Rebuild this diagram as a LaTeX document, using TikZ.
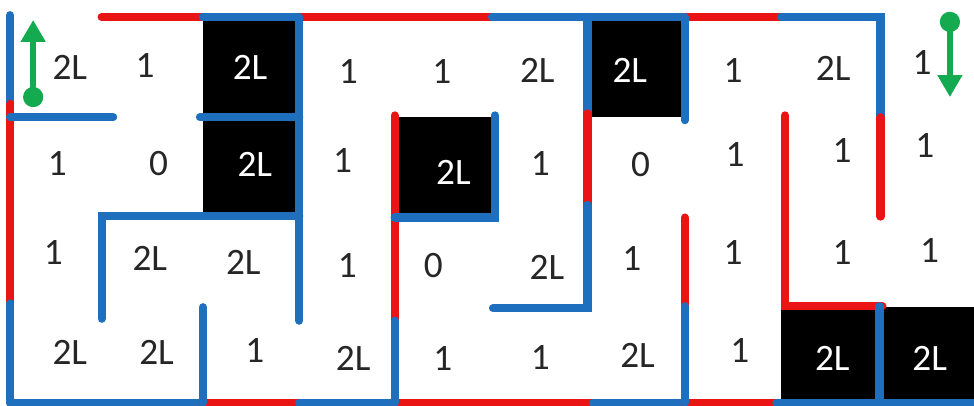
\documentclass[tikz,border=0pt]{standalone}
\usepackage{fontspec}
\setmainfont{Carlito}
\usetikzlibrary{arrows.meta}
\definecolor{wallblue}{RGB}{30,112,190}
\definecolor{wallred}{RGB}{235,20,20}
\definecolor{pathgreen}{RGB}{20,170,80}
\tikzset{
  bwall/.style  = {draw=wallblue, line width=2.4pt, line cap=round},
  rwall/.style  = {draw=wallred, line width=2.4pt, line cap=round},
  block/.style  = {fill=black},
  cost/.style   = {font=\fontsize{11}{13}\selectfont, text=black!85, inner sep=0pt},
  costw/.style  = {cost, text=white},
  walker/.style = {pathgreen, line width=1.8pt, -{Triangle[width=7pt,length=6.5pt]}},
}

\begin{document}
\begin{tikzpicture}
  \useasboundingbox (-0.104,-0.031) rectangle (10,4.177);
  % dark cells
  \fill[block] (2,2.96) rectangle (3,4);
  \fill[block] (2,1.94) rectangle (3,2.96);
  \fill[block] (4,1.94) rectangle (5,2.96);
  \fill[block] (6,2.96) rectangle (7,4);
  \fill[block] (8,0) rectangle (9,0.99);
  \fill[block] (9,0) rectangle (10,0.99);
  % outer frame
  \draw[bwall] (0,4.02) -- (0,3.1);
  \draw[rwall] (0,3.1) -- (0,1.03);
  \draw[bwall] (0,1.03) -- (0,0);
  \draw[rwall] (0.95,4) -- (2,4);
  \draw[bwall] (2,4) -- (3,4);
  \draw[rwall] (3,4) -- (5,4);
  \draw[bwall] (5,4) -- (7,4);
  \draw[rwall] (7,4) -- (8,4);
  \draw[bwall] (8,4) -- (9.03,4) -- (9.03,2.96);
  \draw[rwall] (9.03,2.96) -- (9.03,1.93);
  \draw[bwall] (0,0) -- (2,0);
  \draw[rwall] (2,0) -- (3,0);
  \draw[bwall] (3,0) -- (4,0);
  \draw[rwall] (4,0) -- (6.05,0);
  \draw[bwall] (6.05,0) -- (7,0);
  \draw[rwall] (7,0) -- (7.95,0);
  \draw[bwall] (7.95,0) -- (10,0);
  \draw[wallred!30, line width=2.4pt] (10.04,4) -- (10.04,1.05);
  % inner walls
  \draw[bwall] (0,2.96) -- (1.07,2.96);
  \draw[bwall] (1.97,2.96) -- (3,2.96);
  \draw[bwall] (3,4) -- (3,0.85);
  \draw[bwall] (0.95,0.87) -- (0.95,1.94) -- (3,1.94);
  \draw[bwall] (2,0.99) -- (2,0);
  \draw[rwall] (3.99,2.98) -- (3.99,0.85);
  \draw[bwall] (3.99,0.85) -- (3.99,0);
  \draw[bwall] (3.99,1.92) -- (5.03,1.92) -- (5.03,2.98);
  \draw[bwall] (5.99,4) -- (5.99,3.0);
  \draw[rwall] (5.99,3.0) -- (5.99,2.05);
  \draw[bwall] (5.99,2.05) -- (5.99,0.98) -- (5.01,0.98);
  \draw[bwall] (7,4) -- (7,2.93);
  \draw[rwall] (7,1.92) -- (7,1.0);
  \draw[bwall] (7,1.0) -- (7,0);
  \draw[rwall] (8.04,2.98) -- (8.04,1.0) -- (9.05,1.0);
  \draw[bwall] (9.02,1.0) -- (9.02,0);
  % cell costs
  \foreach \n/\x/\y/\t/\s in {
    a0/0.62/3.48/2L/cost,  a1/1.40/3.50/1/cost,   a2/2.49/3.48/2L/costw,
    a3/3.51/3.43/1/cost,   a4/4.48/3.43/1/cost,   a5/5.47/3.45/2L/cost,
    a6/6.43/3.45/2L/costw, a7/7.50/3.45/1/cost,   a8/8.54/3.47/2L/cost,
    a9/9.46/3.53/1/cost,
    b0/0.49/2.48/1/cost,   b1/1.54/2.48/0/cost,   b2/2.54/2.47/2L/costw,
    b3/3.45/2.51/1/cost,   b4/4.60/2.39/2L/costw, b5/5.50/2.48/1/cost,
    b6/6.54/2.47/0/cost,   b7/7.52/2.57/1/cost,   b8/8.63/2.62/1/cost,
    b9/9.49/2.67/1/cost,
    c0/0.45/1.56/1/cost,   c1/1.45/1.50/2L/cost,  c2/2.42/1.45/2L/cost,
    c3/3.50/1.42/1/cost,   c4/4.39/1.42/0/cost,   c5/5.57/1.40/2L/cost,
    c6/6.45/1.50/1/cost,   c7/7.50/1.56/1/cost,   c8/8.63/1.56/1/cost,
    c9/9.54/1.58/1/cost,
    d0/0.62/0.52/2L/cost,  d1/1.52/0.52/2L/cost,  d2/2.54/0.54/1/cost,
    d3/3.56/0.46/2L/cost,  d4/4.49/0.46/1/cost,   d5/5.50/0.47/1/cost,
    d6/6.51/0.49/2L/cost,  d7/7.57/0.54/1/cost,   d8/8.53/0.46/2L/costw,
    d9/9.54/0.46/2L/costw}
    \node[\s] (\n) at (\x,\y) {\t};
  % start and goal
  \coordinate (startdot) at (0.24,3.17);
  \coordinate (starttip) at (0.24,3.97);
  \coordinate (goaldot) at (9.75,3.95);
  \coordinate (goaltip) at (9.75,3.17);
  \fill[pathgreen] (startdot) circle (0.105);
  \draw[walker] (startdot) -- (starttip);
  \fill[pathgreen] (goaldot) circle (0.105);
  \draw[walker] (goaldot) -- (goaltip);
\end{tikzpicture}
\end{document}
